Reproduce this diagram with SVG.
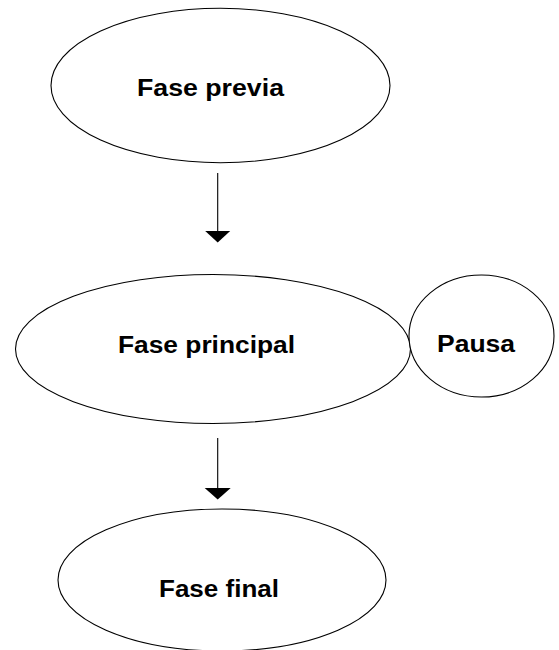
<svg xmlns="http://www.w3.org/2000/svg" width="559" height="650" viewBox="0 0 559 650">
  <defs>
    <style>
      .node { fill: #ffffff; stroke: #000000; stroke-width: 1.1; }
      .label { font-family: "Liberation Sans", Arial, Helvetica, sans-serif; font-weight: bold; font-size: 23px; fill: #000000; text-anchor: middle; }
      .conn { stroke: #000000; stroke-width: 1.1; fill: none; }
      .head { fill: #000000; stroke: none; }
    </style>
  </defs>
  <rect width="559" height="650" fill="#ffffff"/>
  <g id="connectors">
    <line class="conn" x1="217.7" y1="173" x2="217.7" y2="232"/>
    <polygon class="head" points="205.2,231 230.2,231 217.7,242.5"/>
    <line class="conn" x1="217.7" y1="438" x2="217.7" y2="489"/>
    <polygon class="head" points="204.7,488 230.7,488 217.7,499.5"/>
  </g>
  <g id="fase-previa">
    <ellipse class="node" cx="220.5" cy="85.5" rx="169.5" ry="77.2"/>
    <text class="label" x="210.5" y="96" textLength="147" lengthAdjust="spacingAndGlyphs">Fase previa</text>
  </g>
  <g id="fase-principal">
    <ellipse class="node" cx="213" cy="349" rx="197.5" ry="74.5"/>
    <text class="label" x="206.5" y="353" textLength="177" lengthAdjust="spacingAndGlyphs">Fase principal</text>
  </g>
  <g id="pausa">
    <ellipse class="node" cx="481.5" cy="336" rx="72.5" ry="61"/>
    <text class="label" x="476" y="352" textLength="78" lengthAdjust="spacingAndGlyphs">Pausa</text>
  </g>
  <g id="fase-final">
    <ellipse class="node" cx="222" cy="580" rx="164" ry="71"/>
    <text class="label" x="219" y="596.7" textLength="120" lengthAdjust="spacingAndGlyphs">Fase final</text>
  </g>
</svg>
